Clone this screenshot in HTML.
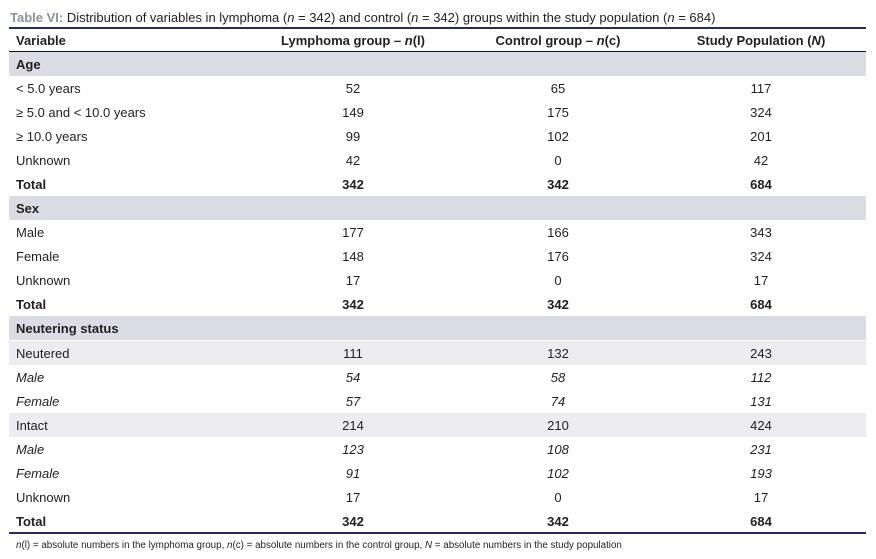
<!DOCTYPE html>
<html><head><meta charset="utf-8">
<style>
html,body{margin:0;padding:0;background:#fff;}
body{width:876px;height:559px;position:relative;overflow:hidden;font-family:"Liberation Sans",Arial,sans-serif;color:#231f20;}
.title{position:absolute;left:10px;top:10px;font-size:13px;line-height:16px;white-space:nowrap;}
.title b{color:#8a929f;}
.rule{position:absolute;left:9px;width:857px;}
.row{position:absolute;left:9px;width:857px;height:24px;line-height:24px;font-size:13px;white-space:nowrap;}
.row span{position:absolute;top:1px;}
.l{left:7px;}
.c1{left:237px;width:214px;text-align:center;}
.c2{left:451px;width:196px;text-align:center;}
.c3{left:647px;width:210px;text-align:center;}
.b{font-weight:bold;}
.i span{font-style:italic;}
.g1{background:#dcdce4;}
.g2{background:#ececf1;}
.foot{position:absolute;left:16px;top:539px;font-size:9.8px;line-height:14px;white-space:nowrap;}
</style></head><body>
<div class="title"><b>Table VI:</b> Distribution of variables in lymphoma (<i>n</i> = 342) and control (<i>n</i> = 342) groups within the study population (<i>n</i> = 684)</div>
<div class="rule" style="top:27px;height:2px;background:#262b5f;"></div>
<div class="row b" style="top:29px;height:22px;line-height:22px;"><span class="l">Variable</span><span class="c1">Lymphoma group – <i>n</i>(l)</span><span class="c2">Control group – <i>n</i>(c)</span><span class="c3">Study Population (<i>N</i>)</span></div>
<div class="rule" style="top:51px;height:1px;background:#111;"></div>

<div class="row b g1" style="top:52px;"><span class="l">Age</span></div>
<div class="row" style="top:76px;"><span class="l">&lt; 5.0 years</span><span class="c1">52</span><span class="c2">65</span><span class="c3">117</span></div>
<div class="row" style="top:100px;"><span class="l">≥ 5.0 and &lt; 10.0 years</span><span class="c1">149</span><span class="c2">175</span><span class="c3">324</span></div>
<div class="row" style="top:124px;"><span class="l">≥ 10.0 years</span><span class="c1">99</span><span class="c2">102</span><span class="c3">201</span></div>
<div class="row" style="top:148px;"><span class="l">Unknown</span><span class="c1">42</span><span class="c2">0</span><span class="c3">42</span></div>
<div class="row b" style="top:172px;"><span class="l">Total</span><span class="c1">342</span><span class="c2">342</span><span class="c3">684</span></div>

<div class="row b g1" style="top:196px;"><span class="l">Sex</span></div>
<div class="row" style="top:220px;"><span class="l">Male</span><span class="c1">177</span><span class="c2">166</span><span class="c3">343</span></div>
<div class="row" style="top:244px;"><span class="l">Female</span><span class="c1">148</span><span class="c2">176</span><span class="c3">324</span></div>
<div class="row" style="top:268px;"><span class="l">Unknown</span><span class="c1">17</span><span class="c2">0</span><span class="c3">17</span></div>
<div class="row b" style="top:292px;"><span class="l">Total</span><span class="c1">342</span><span class="c2">342</span><span class="c3">684</span></div>

<div class="row b g1" style="top:316px;"><span class="l">Neutering status</span></div>
<div class="row g2" style="top:341px;"><span class="l">Neutered</span><span class="c1">111</span><span class="c2">132</span><span class="c3">243</span></div>
<div class="row i" style="top:365px;"><span class="l">Male</span><span class="c1">54</span><span class="c2">58</span><span class="c3">112</span></div>
<div class="row i" style="top:389px;"><span class="l">Female</span><span class="c1">57</span><span class="c2">74</span><span class="c3">131</span></div>
<div class="row g2" style="top:413px;"><span class="l">Intact</span><span class="c1">214</span><span class="c2">210</span><span class="c3">424</span></div>
<div class="row i" style="top:437px;"><span class="l">Male</span><span class="c1">123</span><span class="c2">108</span><span class="c3">231</span></div>
<div class="row i" style="top:461px;"><span class="l">Female</span><span class="c1">91</span><span class="c2">102</span><span class="c3">193</span></div>
<div class="row" style="top:485px;"><span class="l">Unknown</span><span class="c1">17</span><span class="c2">0</span><span class="c3">17</span></div>
<div class="row b" style="top:509px;"><span class="l">Total</span><span class="c1">342</span><span class="c2">342</span><span class="c3">684</span></div>
<div class="rule" style="top:532px;height:2px;background:#262b5f;"></div>

<div class="foot"><i>n</i>(l) = absolute numbers in the lymphoma group, <i>n</i>(c) = absolute numbers in the control group, <i>N</i> = absolute numbers in the study population</div>
</body></html>
